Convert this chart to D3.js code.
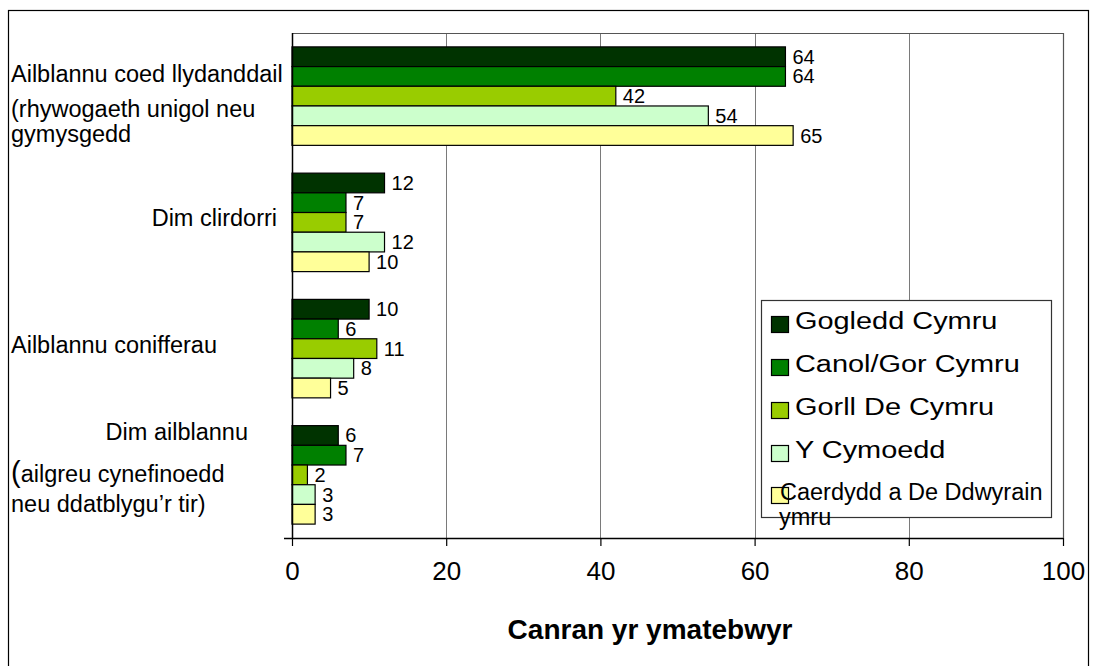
<!DOCTYPE html>
<html>
<head>
<meta charset="utf-8">
<script src="https://cdn.jsdelivr.net/npm/d3@7"></script>
<style>
  html, body { margin: 0; padding: 0; background: #fff; }
  svg { display: block; font-family: "Liberation Sans", Arial, sans-serif; }
</style>
</head>
<body>
<svg id="chart" width="1093" height="666"></svg>
<script>
// ---- data ----
const categories = [
  "Ailblannu coed llydanddail (rhywogaeth unigol neu gymysgedd",
  "Dim clirdorri",
  "Ailblannu conifferau",
  "Dim ailblannu (ailgreu cynefinoedd neu ddatblygu’r tir)"
];
const categoryLines = [
  ["Ailblannu coed llydanddail", "(rhywogaeth unigol neu", "gymysgedd"],
  ["Dim clirdorri"],
  ["Ailblannu conifferau"],
  ["Dim ailblannu", "(ailgreu cynefinoedd", "neu ddatblygu’r tir)"]
];
const seriesNames = ["Gogledd Cymru", "Canol/Gor Cymru", "Gorll De Cymru", "Y Cymoedd", "Caerdydd a De Ddwyrain Cymru"];
const legendLines = [["Gogledd Cymru"], ["Canol/Gor Cymru"], ["Gorll De Cymru"], ["Y Cymoedd"], ["Caerdydd a De Ddwyrain", "ymru"]];
const gogleddCymru = [64, 12, 10, 6];
const canolGorCymru = [64, 7, 6, 7];
const gorllDeCymru = [42, 7, 11, 2];
const yCymoedd = [54, 12, 8, 3];
const caerdyddDeDdwyrain = [65, 10, 5, 3];
const seriesValues = [gogleddCymru, canolGorCymru, gorllDeCymru, yCymoedd, caerdyddDeDdwyrain];
const xTicks = [0, 20, 40, 60, 80, 100];
const xTitle = "Canran yr ymatebwyr";

// ---- styles / layout ----
const colors = ["#003300", "#008000", "#99CC00", "#CCFFCC", "#FFFF99"];
const plot = { left: 292, right: 1063, top: 33, bottom: 538 };
// per-line label layout: [x, anchor, dy from band centre]
const labelLayout = [
  [[11, "start", -14], [11, "start", 21], [11, "start", 46]],
  [[277, "end", 4]],
  [[11, "start", 4.5]],
  [[248, "end", -35], [11, "start", 7], [11, "start", 37]]
];

const svg = d3.select("#chart");

// outer frame
svg.append("rect")
  .attr("x", 8.5).attr("y", 10.5).attr("width", 1080).attr("height", 700)
  .attr("fill", "#fff").attr("stroke", "#000").attr("stroke-width", 1.2);

const x = d3.scaleLinear().domain([0, 100]).range([plot.left, plot.right]);
const y = d3.scaleBand().domain(categories).range([plot.top, plot.bottom])
  .paddingInner(0.22).paddingOuter(0.11);
const ySub = d3.scaleBand().domain(d3.range(seriesNames.length)).range([0, y.bandwidth()]);

// gridlines
svg.append("g").selectAll("line")
  .data(xTicks.filter(t => t > 0 && t < 100))
  .join("line")
  .attr("x1", d => Math.round(x(d)) + 0.5).attr("x2", d => Math.round(x(d)) + 0.5)
  .attr("y1", plot.top).attr("y2", plot.bottom)
  .attr("stroke", "#7a7a7a").attr("stroke-width", 1);

// plot top & right border
svg.append("path")
  .attr("d", `M${plot.left},${plot.top + 0.5}H${plot.right + 0.5}V${plot.bottom}`)
  .attr("fill", "none").attr("stroke", "#555").attr("stroke-width", 1.2);

// bars
const groups = svg.append("g").selectAll("g")
  .data(categories)
  .join("g")
  .attr("transform", d => `translate(0,${y(d)})`);

groups.each(function(cat, ci) {
  const g = d3.select(this);
  const rows = seriesValues.map((vals, si) => ({ si, v: vals[ci] }));
  g.selectAll("rect")
    .data(rows)
    .join("rect")
    .attr("x", x(0))
    .attr("y", d => ySub(d.si))
    .attr("width", d => x(d.v) - x(0))
    .attr("height", ySub.bandwidth())
    .attr("fill", d => colors[d.si])
    .attr("stroke", "#000").attr("stroke-width", 1.2);
  g.selectAll("text")
    .data(rows)
    .join("text")
    .attr("x", d => x(d.v) + 7)
    .attr("y", d => ySub(d.si) + ySub.bandwidth() / 2 + 7)
    .attr("font-size", 20)
    .attr("fill", "#000")
    .text(d => d.v);
});

// x axis
const xAxis = svg.append("g").attr("transform", `translate(0,${plot.bottom})`)
  .call(d3.axisBottom(x).tickValues(xTicks).tickSize(8).tickPadding(14).tickFormat(d3.format("d")));
xAxis.select(".domain").remove();
xAxis.selectAll(".tick line").attr("stroke", "#000").attr("stroke-width", 1.2);
xAxis.selectAll(".tick text").attr("font-size", 26).attr("fill", "#000")
  .attr("font-family", "'Liberation Sans', Arial, sans-serif").attr("dy", "0.76em");
svg.append("line")
  .attr("x1", 284).attr("x2", plot.right).attr("y1", plot.bottom + 0.5).attr("y2", plot.bottom + 0.5)
  .attr("stroke", "#000").attr("stroke-width", 1.5);
// y axis line
svg.append("line")
  .attr("x1", plot.left + 0.5).attr("x2", plot.left + 0.5).attr("y1", plot.top).attr("y2", plot.bottom)
  .attr("stroke", "#000").attr("stroke-width", 1.5);

// category labels
categories.forEach((cat, ci) => {
  const cy = y(cat) + y.bandwidth() / 2;
  categoryLines[ci].forEach((line, li) => {
    const [lx, anchor, dy] = labelLayout[ci][li];
    const t = svg.append("text")
      .attr("x", lx).attr("y", cy + dy)
      .attr("text-anchor", anchor)
      .attr("font-size", 23.5).attr("fill", "#000");
    if (line.startsWith("(") && ci === 3) {
      t.append("tspan").attr("font-size", 29).text("(");
      t.append("tspan").text(line.slice(1));
    } else {
      t.text(line);
    }
  });
});

// axis title
svg.append("text")
  .attr("x", 650).attr("y", 639)
  .attr("text-anchor", "middle")
  .attr("font-size", 28).attr("font-weight", "bold").attr("fill", "#000")
  .text(xTitle);

// legend
const legend = svg.append("g");
legend.append("rect")
  .attr("x", 761.5).attr("y", 300.5).attr("width", 290).attr("height", 217)
  .attr("fill", "#fff").attr("stroke", "#333").attr("stroke-width", 1.2);
const legendBaselines = [329, 372, 415, 458, 500];
const legendTextX = [795, 795, 795, 795, 780];
const legendStretch = [1.18, 1.18, 1.18, 1.18, 1];
const legendFont = [24.5, 24.5, 24.5, 24.5, 23.5];
seriesNames.forEach((name, i) => {
  legend.append("rect")
    .attr("x", 771.5).attr("y", legendBaselines[i] - 12.5).attr("width", 17).attr("height", 16)
    .attr("fill", colors[i]).attr("stroke", "#000").attr("stroke-width", 1.2);
  legendLines[i].forEach((line, li) => {
    const tx = legendTextX[i] - (li > 0 ? 1 : 0);
    const ty = legendBaselines[i] + li * 25;
    legend.append("text")
      .attr("transform", `translate(${tx},${ty}) scale(${legendStretch[i]},1)`)
      .attr("font-size", legendFont[i]).attr("fill", "#000")
      .text(line);
  });
});
</script>
</body>
</html>
